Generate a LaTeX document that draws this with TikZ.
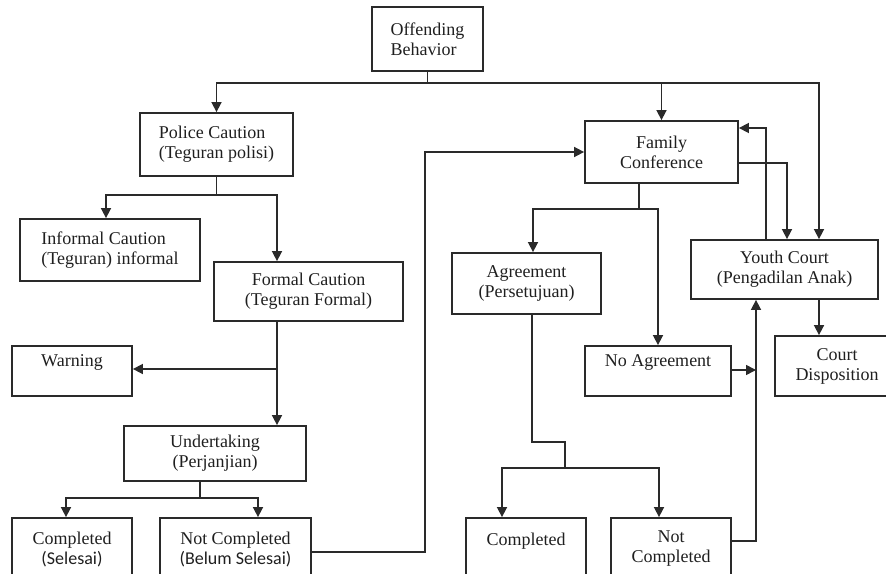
\documentclass[tikz,border=0pt]{standalone}
\usepackage{fontspec}
\setmainfont{Liberation Serif}
\newfontfamily\calisans{Carlito}
\usetikzlibrary{arrows.meta}
\definecolor{ink}{HTML}{2A2A2A}
\tikzset{
  box/.style={draw=ink, line width=1.8pt, rectangle, inner sep=2pt, align=center,
    text=black!88, font=\fontsize{18}{20}\selectfont},
  boxl/.style={box, align=left},
  arr/.style={draw=ink, line width=1.6pt, -{Triangle[length=10pt,width=10pt]}},
  ln/.style={draw=ink, line width=1.6pt}
}
\begin{document}
\begin{tikzpicture}[x=1pt, y=-1pt]
\useasboundingbox (0,0) rectangle (886,573);
\clip (0,0) rectangle (886,573);

% boxes
\node[boxl, minimum width=111, minimum height=64] (off) at (427.5,39) {Offending\\Behavior};
\node[boxl, minimum width=153, minimum height=63] (pol) at (216.5,144.5) {Police Caution\\(Teguran polisi)};
\node[boxl, minimum width=180, minimum height=62] (inf) at (110,250) {Informal Caution\\(Teguran) informal};
\node[box, minimum width=189, minimum height=59] (form) at (308.5,291.5) {Formal Caution\\(Teguran Formal)};
\node[box, minimum width=120, minimum height=50] (warn) at (72,371) {Warning\\\mbox{}};
\node[box, minimum width=182, minimum height=55] (und) at (215,453.5) {Undertaking\\(Perjanjian)};
\node[box, minimum width=120, minimum height=62] (comp1) at (72,549) {Completed\\{\calisans(Selesai)}};
\node[box, minimum width=151, minimum height=62] (ncomp1) at (235.5,549) {Not Completed\\{\calisans(Belum Selesai)}};

\node[box, minimum width=153, minimum height=62] (fam) at (661.5,152) {Family\\Conference};
\node[box, minimum width=149, minimum height=61] (agr) at (526.5,283.5) {Agreement\\(Persetujuan)};
\node[box, minimum width=146, minimum height=50] (noagr) at (658,371) {No Agreement\\\mbox{}};
\node[box, minimum width=187, minimum height=59] (youth) at (784.5,269.5) {Youth Court\\(Pengadilan Anak)};
\node[box, minimum width=124, minimum height=60] (court) at (837,366) {Court\\Disposition};
\node[box, minimum width=120, minimum height=62] (comp2) at (526,549) {Completed\\\mbox{}};
\node[box, minimum width=120, minimum height=62] (ncomp2) at (671,549) {Not\\Completed};

% junction point on the bus that feeds the youth court from below
\coordinate (ybus) at ([xshift=-28.5pt]youth.south);

% offending behaviour fans out
\draw[arr] (off.south) -- ++(0,11) -| (pol.north);
\draw[arr] (off.south) -- ++(0,11) -| (fam.north);
\draw[arr] (off.south) -- ++(0,11) -| ([xshift=34.5pt]youth.north);

% police caution branch
\draw[arr] (pol.south) -- ++(0,18) -| ([xshift=-4pt]inf.north);
\draw[arr] (pol.south) -- ++(0,18) -| ([xshift=-31.5pt]form.north);
\draw[arr] ([xshift=-31.5pt]form.south) -- ([xshift=-31.5pt]form.south |- und.north);
\draw[arr] ([xshift=-31.5pt]form.south) |- ([yshift=2pt]warn.east);

% undertaking outcomes
\draw[arr] ([xshift=-15pt]und.south) -- ++(0,16) -| ([xshift=-6pt]comp1.north);
\draw[arr] ([xshift=-15pt]und.south) -- ++(0,16) -| ([xshift=22.5pt]ncomp1.north);
\draw[arr] ([yshift=-3pt]ncomp1.east) -- ++(113,0) |- (fam.west);

% family conference outcomes
\draw[arr] ([xshift=-22.5pt]fam.south) -- ++(0,25) -| ([xshift=6.5pt]agr.north);
\draw[arr] ([xshift=-22.5pt]fam.south) -- ++(0,25) -| (noagr.north);
\draw[arr] ([yshift=-11pt]fam.east) -| ([xshift=2.5pt]youth.north);
\draw[arr] ([xshift=-18.5pt]youth.north) |- ([yshift=24pt]fam.east);

% youth court
\draw[arr] ([xshift=34.5pt]youth.south) -- ([xshift=34.5pt]youth.south |- court.north);
\draw[arr] ([yshift=1pt]noagr.east) -- ([yshift=1pt]noagr.east -| ybus);
\draw[arr] ([yshift=8pt]ncomp2.east) -| (ybus);

% agreement outcomes
\draw[ln] ([xshift=5.5pt]agr.south) -- ++(0,127) -- ++(33,0) -- ++(0,26) coordinate (aj);
\draw[arr] (aj) -| ([xshift=-24pt]comp2.north);
\draw[arr] (aj) -| ([xshift=-12pt]ncomp2.north);
\end{tikzpicture}
\end{document}
